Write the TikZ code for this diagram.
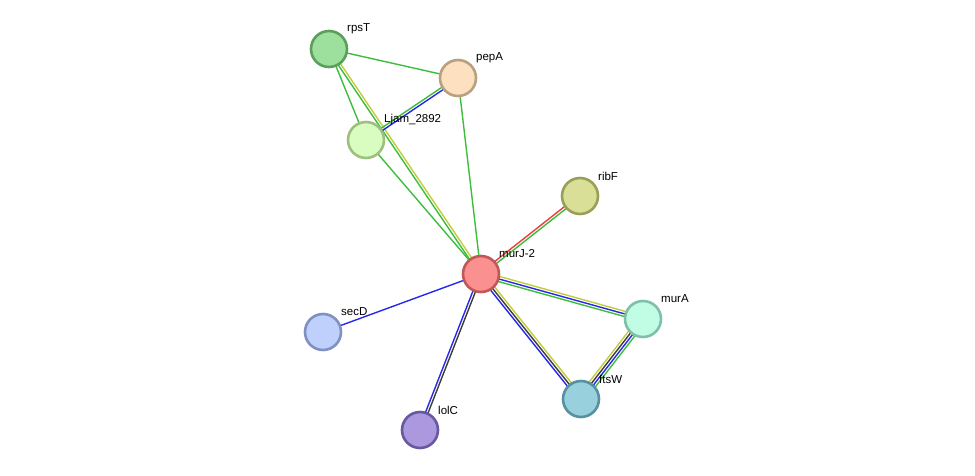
\documentclass[tikz,border=0pt]{standalone}
\usepackage{fontspec}
\setmainfont{Liberation Sans}
\usetikzlibrary{calc,backgrounds}
\definecolor{eg}{RGB}{60,190,60}
\definecolor{eb}{RGB}{40,40,235}
\definecolor{ey}{RGB}{195,205,60}
\definecolor{ek}{RGB}{60,60,60}
\definecolor{er}{RGB}{240,60,60}
\tikzset{
  prot/.style={circle,minimum size=36pt,inner sep=0pt,line width=2.6pt},
  edge/.style={line width=1.4pt},
  lab/.style={anchor=west,font=\fontsize{11.5pt}{12pt}\selectfont,inner sep=0pt}
}
\newcommand\medge[4]{%
  \foreach \c [count=\i] in {#4} {%
    \pgfmathsetmacro\off{-(\i-(#3+1)/2)*2.6}%
    \draw[edge,\c] ($(#1.center)!\off pt!90:(#2.center)$) -- ($(#2.center)!\off pt!-90:(#1.center)$);
  }}
\begin{document}
\begin{tikzpicture}[x=1pt,y=-1pt]
\useasboundingbox (0,0) rectangle (975,476);
\node[prot,draw={rgb,255:red,92;green,158;blue,92},fill={rgb,255:red,157;green,224;blue,157}] (rpsT) at (329,49) {};
\node[prot,draw={rgb,255:red,184;green,160;blue,128},fill={rgb,255:red,253;green,224;blue,192}] (pepA) at (458,78) {};
\node[prot,draw={rgb,255:red,157;green,192;blue,128},fill={rgb,255:red,217;green,253;blue,192}] (ljam) at (366,140) {};
\node[prot,draw={rgb,255:red,154;green,159;blue,88},fill={rgb,255:red,218;green,223;blue,152}] (ribF) at (580,196) {};
\node[prot,draw={rgb,255:red,192;green,88;blue,88},fill={rgb,255:red,251;green,144;blue,144}] (murJ) at (481,274) {};
\node[prot,draw={rgb,255:red,128;green,192;blue,168},fill={rgb,255:red,192;green,253;blue,228}] (murA) at (643,319) {};
\node[prot,draw={rgb,255:red,128;green,144;blue,192},fill={rgb,255:red,192;green,208;blue,253}] (secD) at (323,332) {};
\node[prot,draw={rgb,255:red,88;green,144;blue,160},fill={rgb,255:red,152;green,208;blue,222}] (ftsW) at (581,399) {};
\node[prot,draw={rgb,255:red,104;green,88;blue,160},fill={rgb,255:red,171;green,152;blue,222}] (lolC) at (420,430) {};
\begin{scope}[on background layer]
\medge{rpsT}{pepA}{1}{eg}
\medge{rpsT}{ljam}{1}{eg}
\medge{rpsT}{murJ}{2}{ey,eg}
\medge{pepA}{ljam}{2}{eb,eg}
\medge{pepA}{murJ}{1}{eg}
\medge{ljam}{murJ}{1}{eg}
\medge{ribF}{murJ}{2}{eg,er}
\medge{murJ}{murA}{3}{ey,eb,eg}
\medge{murJ}{ftsW}{3}{ey,ek,eb}
\medge{murA}{ftsW}{4}{eg,eb,ek,ey}
\medge{murJ}{secD}{1}{eb}
\medge{murJ}{lolC}{2}{ek,eb}
\end{scope}
\node[lab] (lrpsT) at ($(rpsT)+(18,-20)$) {rpsT};
\node[lab] (lpepA) at ($(pepA)+(18,-20)$) {pepA};
\node[lab] (lljam) at ($(ljam)+(18,-20)$) {Ljam\_2892};
\node[lab] (lribF) at ($(ribF)+(18,-20)$) {ribF};
\node[lab] (lmurJ) at ($(murJ)+(18,-20)$) {murJ-2};
\node[lab] (lmurA) at ($(murA)+(18,-20)$) {murA};
\node[lab] (lsecD) at ($(secD)+(18,-20)$) {secD};
\node[lab] (lftsW) at ($(ftsW)+(18,-20)$) {ftsW};
\node[lab] (llolC) at ($(lolC)+(18,-20)$) {lolC};
\end{tikzpicture}
\end{document}
